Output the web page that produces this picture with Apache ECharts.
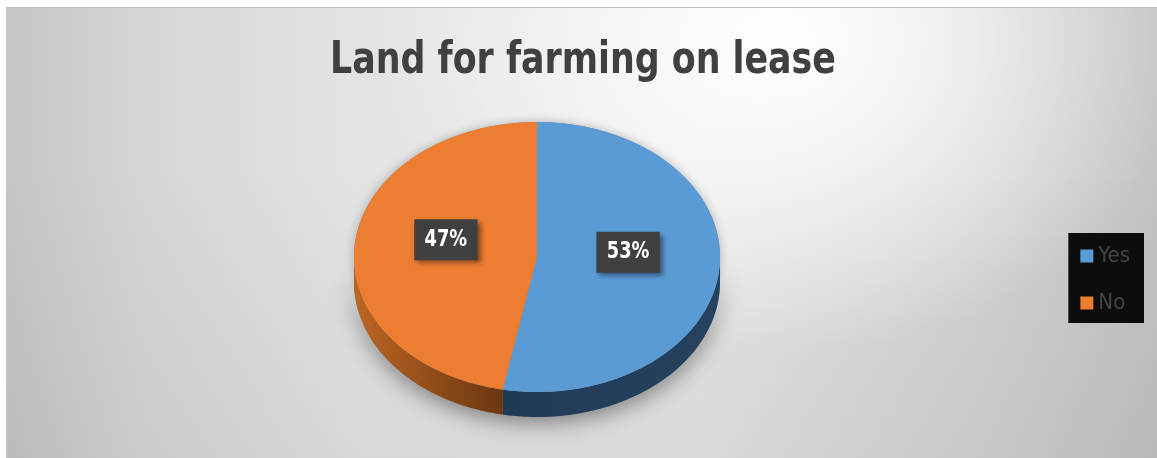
<!DOCTYPE html>
<html>
<head>
<meta charset="utf-8">
<script src="https://cdn.jsdelivr.net/npm/echarts@6/dist/echarts.min.js"></script>
<style>
  html, body { margin: 0; padding: 0; background: #ffffff; width: 1157px; height: 458px; overflow: hidden; }
  #chart {
    position: absolute; left: 6px; top: 7px; width: 1151px; height: 450px;
    border-top: 1px solid #bdbdbd; border-left: 1px solid #c4c4c4;
    background:
      radial-gradient(ellipse 36% 70% at 67% 7%, rgba(255,255,255,1) 0%, rgba(255,255,255,0.65) 40%, rgba(255,255,255,0) 100%),
      linear-gradient(to bottom, rgba(0,0,0,0) 35%, rgba(0,0,0,0.05) 100%),
      linear-gradient(to right, #c5c5c5 0%, #d6d6d6 12%, #e3e3e3 30%, #e5e5e5 60%, #d3d3d3 84%, #c3c3c3 100%);
  }
</style>
</head>
<body>
<div id="chart"></div>
<script>
// Survey answers and their shares (percent)
const categories = ['Yes', 'No'];
const values = [53, 47];
const titleText = 'Land for farming on lease';

// Palette: top faces and the two-stop shading of each slice's rim
const topColors = ['#5b9bd5', '#ed7d31'];
const sideColors = [['#203a56', '#26425f'], ['#bd6623', '#6a3711']];

const NARROW = "'Liberation Sans Narrow', 'Arial Narrow', 'DejaVu Sans Condensed', sans-serif";

// Geometry of the tilted pie (pixels inside the chart)
const CX = 530, CY = 249, RX = 183, RY = 135, DEPTH = 25;
const LABEL_R = 0.5, LABEL_LIFT = -11;
const SQUEEZE = 0.86; // horizontal condensing of the bold captions

const total = values.reduce((a, b) => a + b, 0);
let acc = 0;
const spans = values.map(v => { const s = acc / total; acc += v; return [s, acc / total, v]; });

function rimPoint(a, dy) {
  return [CX + RX * Math.sin(a), CY - RY * Math.cos(a) + (dy || 0)];
}
function arcPoints(a0, a1, dy) {
  const pts = [];
  const n = Math.max(2, Math.ceil((a1 - a0) / (Math.PI / 180)));
  for (let i = 0; i <= n; i++) pts.push(rimPoint(a0 + (a1 - a0) * i / n, dy));
  return pts;
}

// Soft drop shadow beneath the whole disc
function renderBase() {
  const topPts = arcPoints(0, Math.PI * 2, 0);
  const side = arcPoints(Math.PI / 2, Math.PI * 1.5, 0)
    .concat(arcPoints(Math.PI / 2, Math.PI * 1.5, DEPTH).reverse());
  return {
    type: 'group',
    children: [
      { type: 'polygon', shape: { points: side }, style: { fill: '#8a8a8a', shadowBlur: 22, shadowColor: 'rgba(0,0,0,0.45)', shadowOffsetY: 5 } },
      { type: 'polygon', shape: { points: topPts }, style: { fill: '#8a8a8a', shadowBlur: 10, shadowColor: 'rgba(0,0,0,0.25)' } }
    ]
  };
}

function makeSliceRenderer(idx) {
  return function (params, api) {
    const a0 = api.value(0) * Math.PI * 2;
    const a1 = api.value(1) * Math.PI * 2;
    const v = api.value(2);
    const children = [];

    // visible rim: front half of the disc
    const f0 = Math.max(a0, Math.PI / 2), f1 = Math.min(a1, Math.PI * 1.5);
    if (f1 > f0) {
      const pts = arcPoints(f0, f1, 0).concat(arcPoints(f0, f1, DEPTH).reverse());
      children.push({
        type: 'polygon', shape: { points: pts },
        style: {
          fill: { type: 'linear', x: 0, y: 0, x2: 1, y2: 0,
            colorStops: [{ offset: 0, color: sideColors[idx][0] }, { offset: 1, color: sideColors[idx][1] }] }
        }
      });
    }

    // top face
    children.push({
      type: 'polygon',
      shape: { points: [[CX, CY]].concat(arcPoints(a0, a1, 0)) },
      style: { fill: topColors[idx] }
    });

    // percentage tag
    const mid = (a0 + a1) / 2;
    children.push({
      type: 'text',
      x: CX + RX * LABEL_R * Math.sin(mid),
      y: CY - RY * LABEL_R * Math.cos(mid) + LABEL_LIFT,
      scaleX: SQUEEZE,
      z2: 10,
      style: {
        text: Math.round(v) + '%',
        fill: '#ffffff',
        font: 'bold 23px ' + NARROW,
        align: 'center', verticalAlign: 'middle',
        lineHeight: 23,
        backgroundColor: '#404040',
        padding: [9, 12, 9, 12],
        shadowBlur: 5, shadowColor: 'rgba(0,0,0,0.45)', shadowOffsetX: 3, shadowOffsetY: 3
      }
    });
    return { type: 'group', children };
  };
}

const series = [{
  type: 'custom', name: 'base', coordinateSystem: 'none', z: 1, silent: true,
  data: [[0, 1, total]], renderItem: renderBase
}].concat(categories.map((name, i) => ({
  type: 'custom',
  name: name,
  coordinateSystem: 'none',
  z: 2,
  itemStyle: { color: topColors[i] },
  data: [spans[i]],
  renderItem: makeSliceRenderer(i)
})));

const chart = echarts.init(document.getElementById('chart'), null, { renderer: 'canvas' });
chart.setOption({
  animation: false,
  backgroundColor: 'transparent',
  graphic: [{
    type: 'text',
    x: 576,
    y: 31,
    scaleX: SQUEEZE,
    style: {
      text: titleText,
      font: 'bold 45px ' + NARROW,
      fill: '#404040',
      align: 'center',
      verticalAlign: 'top'
    }
  }],
  legend: {
    data: categories,
    orient: 'vertical',
    right: 14,
    top: 225,
    backgroundColor: '#0d0d0d',
    padding: [12, 14, 9, 12],
    itemGap: 25,
    itemWidth: 13,
    itemHeight: 13,
    icon: 'rect',
    selectedMode: false,
    textStyle: { fontFamily: NARROW, fontSize: 22, lineHeight: 20, color: '#444444' }
  },
  series: series
});
</script>
</body>
</html>
